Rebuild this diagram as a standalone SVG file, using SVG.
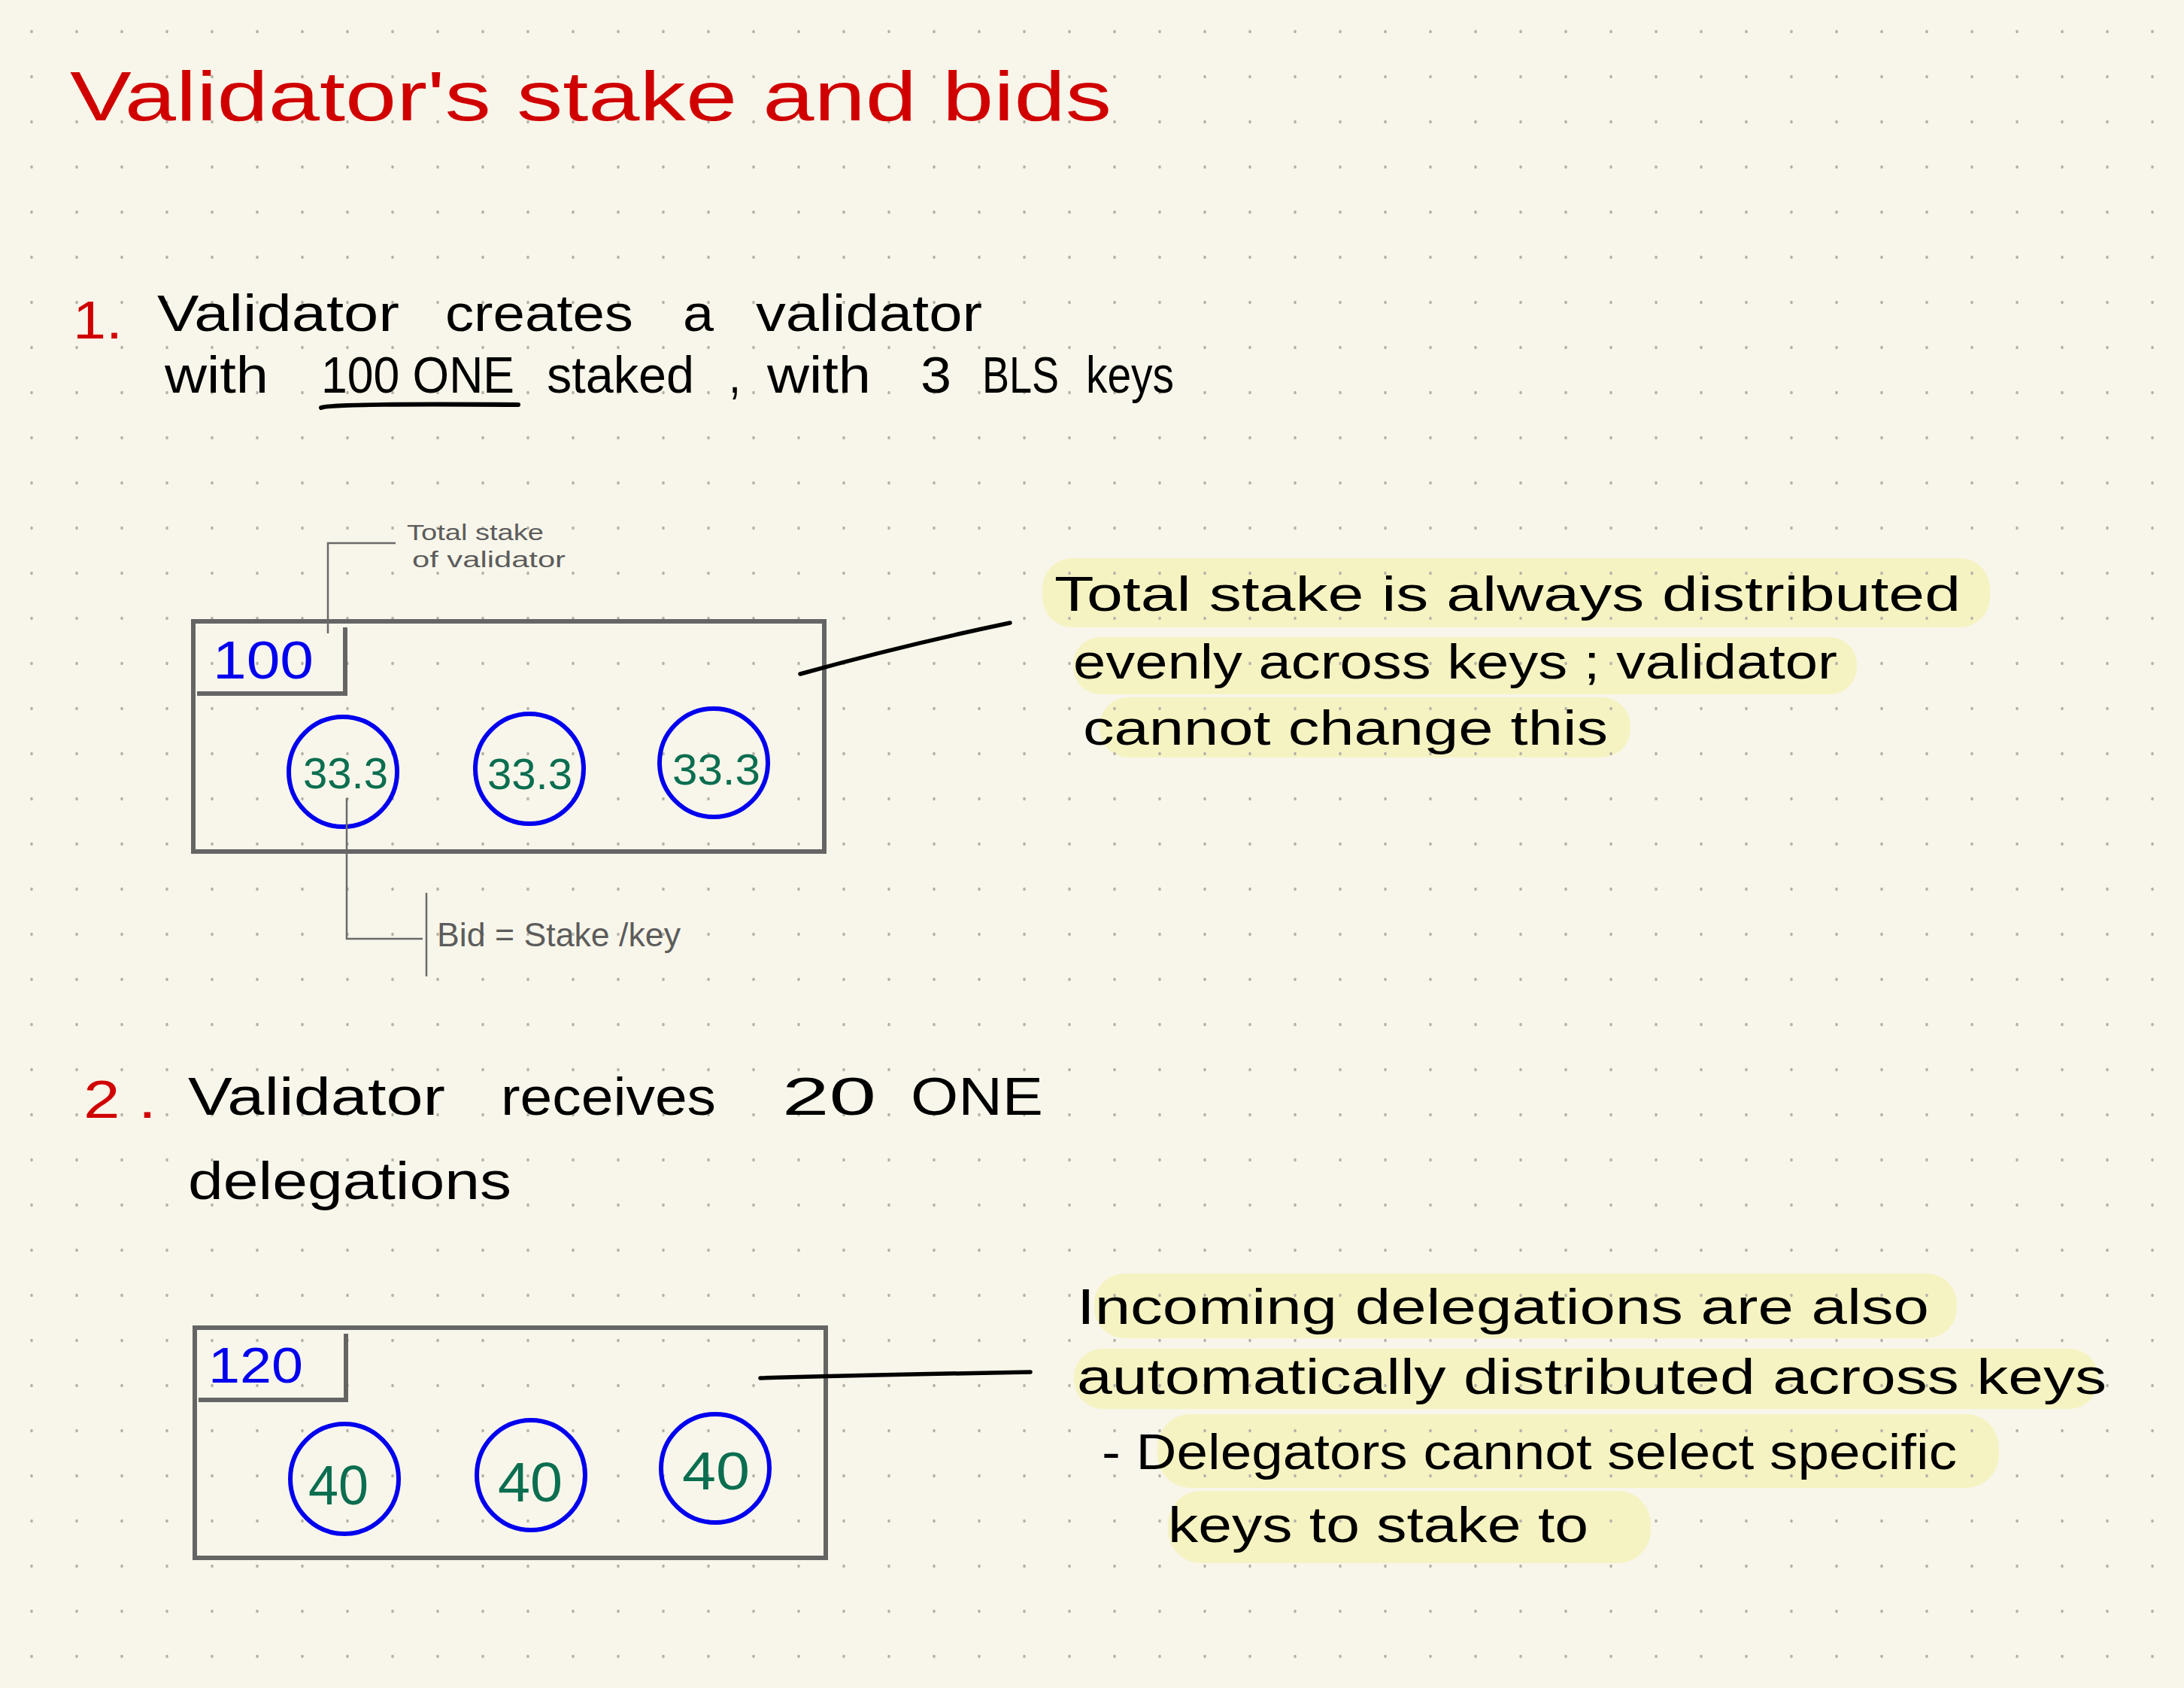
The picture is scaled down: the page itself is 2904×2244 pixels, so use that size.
<svg xmlns="http://www.w3.org/2000/svg" width="2904" height="2244" viewBox="0 0 2904 2244">
<defs>
<pattern id="dots" patternUnits="userSpaceOnUse" width="60" height="60">
<ellipse cx="42" cy="42" rx="1.8" ry="2.3" fill="#b4b2a8"/>
</pattern>
<style>
.hw{font-family:"Liberation Sans","DejaVu Sans",sans-serif;}
.black{fill:#000;}
.red{fill:#d00000;}
.blue{fill:#0000ee;}
.green{fill:#0b6e50;}
.gray{fill:#5c5c5c;}
.box{fill:none;stroke:#656565;stroke-width:6;stroke-linejoin:miter;}
.key{fill:none;stroke:#0000ee;stroke-width:6;}
.lead{fill:none;stroke:#6a6a6a;stroke-width:2.5;}
.conn{fill:none;stroke:#000;stroke-width:5.5;stroke-linecap:round;}
.hl{fill:#f5f3c2;}
</style>
</defs>
<rect width="2904" height="2244" fill="#f8f6ea"/>
<g id="highlights">
<rect class="hl" x="1386" y="742" width="1260" height="92" rx="40"/>
<rect class="hl" x="1427" y="847" width="1042" height="76" rx="36"/>
<rect class="hl" x="1462" y="927" width="706" height="80" rx="38"/>
<rect class="hl" x="1455" y="1693" width="1147" height="86" rx="40"/>
<rect class="hl" x="1428" y="1793" width="1362" height="80" rx="38"/>
<rect class="hl" x="1539" y="1880" width="1119" height="98" rx="44"/>
<rect class="hl" x="1553" y="1982" width="642" height="96" rx="44"/>
</g>
<rect width="2904" height="2244" fill="url(#dots)"/>
<g id="title">
<text class="hw red" x="93" y="160" font-size="92" textLength="1385" lengthAdjust="spacingAndGlyphs">Validator's stake and bids</text>
</g>
<g id="step1">
<text class="hw red" x="97" y="450" font-size="70" textLength="66" lengthAdjust="spacingAndGlyphs">1.</text>
<text class="hw black" x="209" y="440" font-size="68" textLength="322" lengthAdjust="spacingAndGlyphs">Validator</text>
<text class="hw black" x="592" y="440" font-size="68" textLength="250" lengthAdjust="spacingAndGlyphs">creates</text>
<text class="hw black" x="908" y="440" font-size="68" textLength="41" lengthAdjust="spacingAndGlyphs">a</text>
<text class="hw black" x="1005" y="440" font-size="68" textLength="301" lengthAdjust="spacingAndGlyphs">validator</text>
<text class="hw black" x="219" y="522" font-size="68" textLength="138" lengthAdjust="spacingAndGlyphs">with</text>
<text class="hw black" x="427" y="522" font-size="68" textLength="257" lengthAdjust="spacingAndGlyphs">100 ONE</text>
<text class="hw black" x="727" y="522" font-size="68" textLength="196" lengthAdjust="spacingAndGlyphs">staked</text>
<text class="hw black" x="969" y="522" font-size="68" textLength="16" lengthAdjust="spacingAndGlyphs">,</text>
<text class="hw black" x="1020" y="522" font-size="68" textLength="138" lengthAdjust="spacingAndGlyphs">with</text>
<text class="hw black" x="1224" y="522" font-size="68" textLength="41" lengthAdjust="spacingAndGlyphs">3</text>
<text class="hw black" x="1306" y="522" font-size="68" textLength="102" lengthAdjust="spacingAndGlyphs">BLS</text>
<text class="hw black" x="1444" y="522" font-size="68" textLength="117" lengthAdjust="spacingAndGlyphs">keys</text>
<path d="M427,542 Q440,536 689,538" fill="none" stroke="#000" stroke-width="6" stroke-linecap="round"/>
</g>
<g id="validator1">
<rect class="box" x="257" y="826" width="839" height="306"/>
<path class="box" d="M459,834 V922 H262"/>
<text class="hw blue" x="283" y="902" font-size="70" textLength="134" lengthAdjust="spacingAndGlyphs">100</text>
<g id="key1a">
<ellipse class="key" cx="456" cy="1026" rx="72" ry="73"/>
<text class="hw green" x="403" y="1048" font-size="58" textLength="113" lengthAdjust="spacingAndGlyphs">33.3</text>
</g>
<g id="key1b">
<ellipse class="key" cx="704" cy="1022" rx="72" ry="73"/>
<text class="hw green" x="648" y="1049" font-size="58" textLength="113" lengthAdjust="spacingAndGlyphs">33.3</text>
</g>
<g id="key1c">
<ellipse class="key" cx="949" cy="1014" rx="72" ry="72"/>
<text class="hw green" x="894" y="1043" font-size="58" textLength="117" lengthAdjust="spacingAndGlyphs">33.3</text>
</g>
</g>
<g id="label-total">
<text class="hw gray" x="541" y="718" font-size="30" textLength="182" lengthAdjust="spacingAndGlyphs">Total stake</text>
<text class="hw gray" x="548" y="754" font-size="30" textLength="204" lengthAdjust="spacingAndGlyphs">of validator</text>
</g>
<g id="label-bid">
<text class="hw gray" x="581" y="1258" font-size="44" textLength="324" lengthAdjust="spacingAndGlyphs">Bid = Stake /key</text>
</g>
<g id="note1">
<text class="hw black" x="1402" y="812" font-size="64" textLength="1205" lengthAdjust="spacingAndGlyphs">Total stake is always distributed</text>
<text class="hw black" x="1427" y="902" font-size="64" textLength="1016" lengthAdjust="spacingAndGlyphs">evenly across keys ; validator</text>
<text class="hw black" x="1440" y="990" font-size="64" textLength="698" lengthAdjust="spacingAndGlyphs">cannot change this</text>
</g>
<g id="step2">
<text class="hw red" x="111" y="1486" font-size="70" textLength="97" lengthAdjust="spacingAndGlyphs">2 .</text>
<text class="hw black" x="250" y="1482" font-size="70" textLength="342" lengthAdjust="spacingAndGlyphs">Validator</text>
<text class="hw black" x="666" y="1482" font-size="70" textLength="286" lengthAdjust="spacingAndGlyphs">receives</text>
<text class="hw black" x="1040" y="1482" font-size="70" textLength="125" lengthAdjust="spacingAndGlyphs">20</text>
<text class="hw black" x="1211" y="1482" font-size="70" textLength="176" lengthAdjust="spacingAndGlyphs">ONE</text>
<text class="hw black" x="250" y="1594" font-size="70" textLength="430" lengthAdjust="spacingAndGlyphs">delegations</text>
</g>
<g id="validator2">
<rect class="box" x="259" y="1765" width="839" height="306"/>
<path class="box" d="M460,1773 V1861 H264"/>
<text class="hw blue" x="277" y="1838" font-size="66" textLength="126" lengthAdjust="spacingAndGlyphs">120</text>
<g id="key2a">
<ellipse class="key" cx="458" cy="1966" rx="72" ry="73"/>
<text class="hw green" x="410" y="2000" font-size="74" textLength="80" lengthAdjust="spacingAndGlyphs">40</text>
</g>
<g id="key2b">
<ellipse class="key" cx="706" cy="1961" rx="72" ry="73"/>
<text class="hw green" x="662" y="1996" font-size="74" textLength="86" lengthAdjust="spacingAndGlyphs">40</text>
</g>
<g id="key2c">
<ellipse class="key" cx="951" cy="1952" rx="72" ry="72"/>
<text class="hw green" x="907" y="1980" font-size="70" textLength="90" lengthAdjust="spacingAndGlyphs">40</text>
</g>
</g>
<g id="note2">
<text class="hw black" x="1432" y="1760" font-size="66" textLength="1133" lengthAdjust="spacingAndGlyphs">Incoming delegations are also</text>
<text class="hw black" x="1432" y="1853" font-size="66" textLength="1369" lengthAdjust="spacingAndGlyphs">automatically distributed across keys</text>
<text class="hw black" x="1465" y="1953" font-size="66" textLength="1137" lengthAdjust="spacingAndGlyphs">- Delegators cannot select specific</text>
<text class="hw black" x="1553" y="2050" font-size="66" textLength="559" lengthAdjust="spacingAndGlyphs">keys to stake to</text>
</g>
<g id="connectors">
<path class="lead" d="M436,842 V722 H526"/>
<path class="lead" d="M461,1061 V1248 H562"/>
<path class="lead" d="M567,1187 V1298"/>
<path class="conn" d="M1064,896 Q1200,858 1343,828"/>
<path class="conn" d="M1011,1832 Q1150,1828 1370,1824"/>
</g>
</svg>
